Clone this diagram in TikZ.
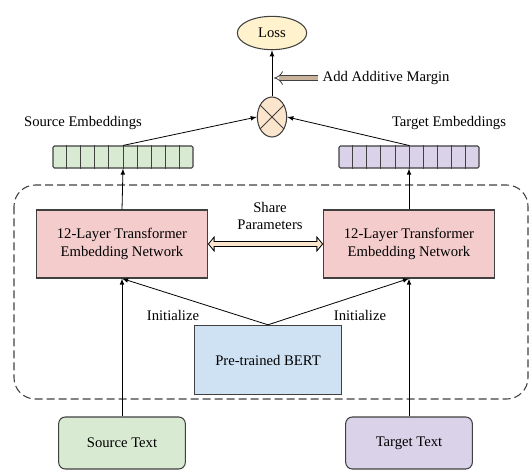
\documentclass[tikz,border=0pt]{standalone}
\usepackage{xcolor}
\usepackage{fontspec}
\setmainfont{Liberation Serif}
\usepackage{tikz}
\usetikzlibrary{shapes.geometric,arrows.meta,calc}

\definecolor{srcgreen}{HTML}{D9EAD3}
\definecolor{tgtpurple}{HTML}{D9D2E9}
\definecolor{netpink}{HTML}{F4CCCC}
\definecolor{bertblue}{HTML}{CFE2F3}
\definecolor{lossyellow}{HTML}{FFF2CC}
\definecolor{peach}{HTML}{FCE5CD}
\definecolor{tan}{HTML}{C9B29B}
\definecolor{edge}{HTML}{404040}

\begin{document}
\begin{tikzpicture}[x=0.75pt, y=-0.75pt, font=\fontsize{11}{13}\selectfont]
        \useasboundingbox (0, 0) rectangle (530, 470);

        % dashed frame round the two networks
        \draw[edge, dashed, dash pattern=on 6pt off 3pt, rounded corners=16pt, thick] (14, 185) rectangle (528, 399);

        \node[ellipse, draw=edge, thick, fill=lossyellow, minimum width=52pt, minimum height=25pt] (loss) at (272, 33) {Loss};
        \node[ellipse, draw=edge, thick, fill=peach, minimum width=22pt, minimum height=30pt, inner sep=0pt] (mult) at (272, 117) {};
        \draw[edge, semithick] (mult.45) -- (mult.225);
        \draw[edge, semithick] (mult.135) -- (mult.315);

        \node[anchor=west] (margin) at (318, 78) {Add Additive Margin};
        \coordinate (marginend) at (274, 78);

        \node (srclabel) at (83, 123) {Source Embeddings};
        \node (tgtlabel) at (449, 123) {Target Embeddings};

        \node[draw=edge, thick, fill=srcgreen, rounded corners=1pt, minimum width=105pt, minimum height=16.5pt] (srcemb) at (123, 157) {};
        \node[draw=edge, thick, fill=tgtpurple, rounded corners=1pt, minimum width=105pt, minimum height=16.5pt] (tgtemb) at (409, 157) {};
        \foreach \i in {1,...,9} {
            \draw[edge, semithick] ($(srcemb.south west)!\i/10!(srcemb.south east)$) -- ($(srcemb.north west)!\i/10!(srcemb.north east)$);
            \draw[edge, semithick] ($(tgtemb.south west)!\i/10!(tgtemb.south east)$) -- ($(tgtemb.north west)!\i/10!(tgtemb.north east)$);
        }

        \node[draw=edge, fill=netpink, thick, minimum width=128pt, minimum height=51pt, align=center] (srcnet) at (122, 244) {12-Layer Transformer\\Embedding Network};
        \node[draw=edge, fill=netpink, thick, minimum width=128pt, minimum height=51pt, align=center] (tgtnet) at (409, 244) {12-Layer Transformer\\Embedding Network};
        \node[align=center] (share) at (270, 216) {Share\\Parameters};

        \node[draw=edge, fill=bertblue, thick, minimum width=110pt, minimum height=52pt] (bert) at (268, 360) {Pre-trained BERT};

        \node[draw=edge, thick, fill=srcgreen, rounded corners=5pt, minimum width=95pt, minimum height=39pt] (srctext) at (122, 443) {Source Text};
        \node[draw=edge, thick, fill=tgtpurple, rounded corners=5pt, minimum width=95pt, minimum height=39pt] (tgttext) at (409, 443) {Target Text};

        \node (srcinit) at (173, 315) {Initialize};
        \node (tgtinit) at (360, 315) {Initialize};

        \draw[semithick, -latex] (srctext.north) -- (srcnet.south);
        \draw[semithick, -latex] (tgttext.north) -- (tgtnet.south);
        \draw[semithick, -latex] (bert.north) -- (srcnet.south);
        \draw[semithick, -latex] (bert.north) -- (tgtnet.south);
        \draw[semithick, -latex] (srcnet.north) -- (srcemb.south);
        \draw[semithick, -latex] (tgtnet.north) -- (tgtemb.south);
        \draw[semithick, -latex] (srcemb.north) -- (mult.west);
        \draw[semithick, -latex] (tgtemb.north) -- (mult.east);
        \draw[semithick, -latex] (mult.north) -- (loss.south);

        \draw[edge, double=tan, double distance=3pt, line width=0.6pt, -{Implies}] (margin.west) -- (marginend);
        \draw[black, line width=5pt, {Triangle[line width=0.6pt, length=5pt, width=12pt, fill=peach]}-{Triangle[line width=0.6pt, length=5pt, width=12pt, fill=peach]}] (srcnet.east) -- (tgtnet.west);
        \draw[peach, line width=3.6pt, shorten <=4pt, shorten >=4pt] (srcnet.east) -- (tgtnet.west);
    \end{tikzpicture}
\end{document}
